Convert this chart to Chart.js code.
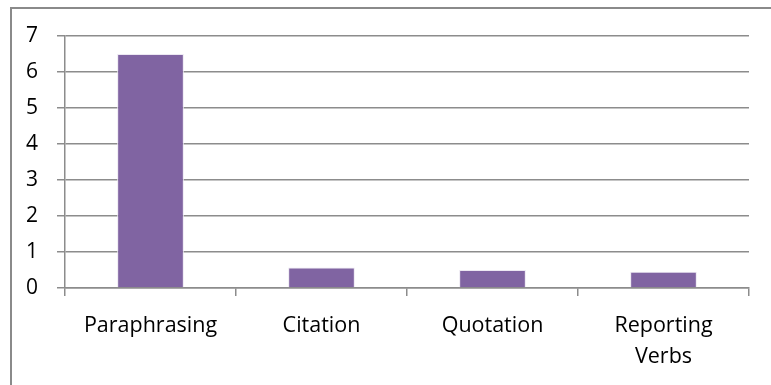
<!DOCTYPE html>
<html>
<head>
<meta charset="utf-8">
<script src="https://cdn.jsdelivr.net/npm/chart.js@4/dist/chart.umd.min.js"></script>
<style>
  body { margin: 0; background: #fff; }
  #wrap { position: relative; width: 771px; height: 385px; overflow: hidden; }
  #frame { position: absolute; left: 10px; top: 7px; width: 780px; height: 400px;
           border-left: 2px solid #8a8a8a; border-top: 2px solid #8a8a8a; }
  canvas { position: absolute; left: 0; top: 0; }
</style>
</head>
<body>
<div id="wrap">
  <div id="frame"></div>
  <canvas id="chart" width="771" height="385"></canvas>
</div>
<script>
// values
var categories = ["Paraphrasing", "Citation", "Quotation", ["Reporting", "Verbs"]];
var values = [6.5, 0.57, 0.5, 0.45];
var yTicks = [0, 1, 2, 3, 4, 5, 6, 7];

var gridColor = "#8c8c8c";

var ctx = document.getElementById("chart").getContext("2d");
var myChart = new Chart(ctx, {
	type: "bar",
	data: {
		labels: categories,
		datasets: [{
			data: values,
			backgroundColor: "#8064A2",
			borderColor: "#ece8f2",
			borderWidth: 1,
			barPercentage: 0.39,
			categoryPercentage: 1
		}]
	},
	options: {
		responsive: false,
		animation: false,
		layout: { padding: { top: 36, right: 22, left: 0, bottom: 0 } },
		plugins: { legend: { display: false }, tooltip: { enabled: false } },
		scales: {
			x: {
				grid: { display: true, drawOnChartArea: false, color: gridColor, lineWidth: 1.5, tickLength: 8, offset: true },
				border: { color: gridColor, width: 1.5 },
				ticks: {
					color: "#000",
					padding: 14,
					maxRotation: 0,
					font: { family: "Open Sans", size: 21.5, lineHeight: 1.44 }
				},
				afterFit: function(scale) { scale.height = 97; }
			},
			y: {
				min: 0,
				max: 7,
				afterBuildTicks: function(scale) {
					scale.ticks = yTicks.map(v => ({ value: v }));
				},
				grid: { color: gridColor, lineWidth: 1.5, tickLength: 8 },
				border: { color: gridColor, width: 1.5 },
				ticks: {
					color: "#000",
					padding: 19,
					font: { family: "Open Sans", size: 21 }
				},
				afterFit: function(scale) { scale.width = 65; }
			}
		}
	}
});
</script>
</body>
</html>
